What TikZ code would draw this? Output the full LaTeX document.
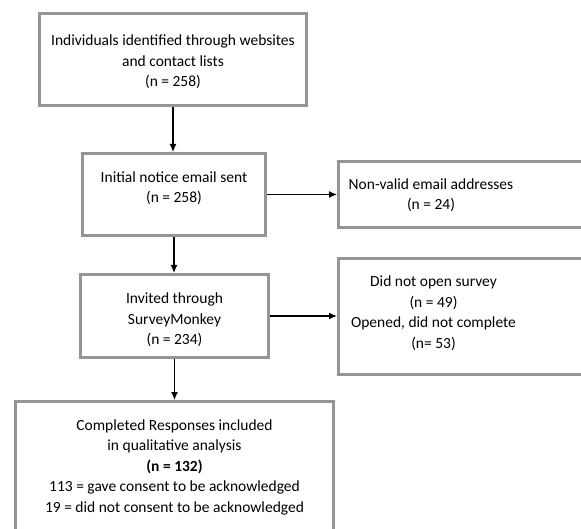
\documentclass[tikz,border=0pt]{standalone}
\usepackage{fontspec}
\setmainfont{Carlito}
\usetikzlibrary{arrows.meta}
\definecolor{boxgray}{HTML}{959595}
\begin{document}
\begin{tikzpicture}[x=1pt,y=-1pt,
  box/.style={draw=boxgray,line width=3pt,rectangle,inner sep=0pt},
  txt/.style={align=center,inner sep=0pt,font=\fontsize{15.5}{20.5}\selectfont},
  arr/.style={line width=1.3pt,-{Latex[length=8pt,width=7pt]}}]
\useasboundingbox (0,0) rectangle (581,529);
\clip (0,0) rectangle (581,529);
\node[box,minimum width=267pt,minimum height=92pt] (b1) at (173,59.5) {};
\node[box,minimum width=183pt,minimum height=82pt] (b2) at (174,194.5) {};
\node[box,minimum width=261.5pt,minimum height=66pt] (b3) at (469.25,194.5) {};
\node[box,minimum width=188pt,minimum height=83pt] (b4) at (174.5,316) {};
\node[box,minimum width=261.5pt,minimum height=116pt] (b5) at (469.25,316.5) {};
\node[box,minimum width=318pt,minimum height=148.5pt] (b6) at (174.5,475.75) {};
\node[txt] (t1) at (173,62) {Individuals identified through websites\\and contact lists\\(n = 258)};
\node[txt] (t2) at (174,188) {Initial notice email sent\\(n = 258)};
\node[txt] (t3) at (431,195) {Non-valid email addresses\\(n = 24)};
\node[txt] (t4) at (174.5,320) {Invited through\\SurveyMonkey\\(n = 234)};
\node[txt] (t5) at (433.5,313) {Did not open survey\\(n = 49)\\Opened, did not complete\\(n= 53)};
\node[txt] (t6) at (174.5,467) {Completed Responses included\\in qualitative analysis\\\textbf{(n = 132)}\\113 = gave consent to be acknowledged\\19 = did not consent to be acknowledged};
\draw[arr] (b1.south) -- (b1.south |- b2.north);
\draw[arr] (b2.south) -- (b2.south |- b4.north);
\draw[arr] (b4.south) -- (b4.south |- b6.north);
\draw[arr] (b2.east) -- (b2.east -| b3.west);
\draw[arr] (b4.east) -- (b4.east -| b5.west);
\end{tikzpicture}
\end{document}
